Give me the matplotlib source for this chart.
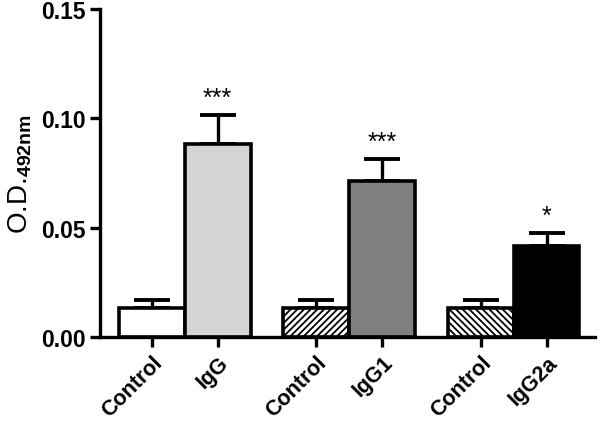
import matplotlib
matplotlib.use("Agg")
import matplotlib.pyplot as plt

categories = ["Control", "IgG", "Control", "IgG1", "Control", "IgG2a"]
positions = [0, 1, 2.5, 3.5, 5, 6]
values = [0.0133, 0.0883, 0.0133, 0.0713, 0.0133, 0.0416]
errors = [0.0037, 0.0130, 0.0037, 0.0100, 0.0037, 0.0060]
stars = ["", "***", "", "***", "", "*"]
face_colors = ["white", "#d4d4d4", "white", "#808080", "white", "black"]
hatches = [None, None, "/////", None, "\\\\\\\\\\", None]
yticks = [0.00, 0.05, 0.10, 0.15]

plt.rcParams['font.family'] = ['Liberation Sans', 'DejaVu Sans']
plt.rcParams['hatch.linewidth'] = 1.3
plt.rcParams['mathtext.fontset'] = 'custom'
plt.rcParams['mathtext.rm'] = 'Liberation Sans'
plt.rcParams['mathtext.bf'] = 'Liberation Sans:bold'

fig = plt.figure(figsize=(6.0, 4.31), dpi=100)
ax = fig.add_axes([0.1667, 0.2158, 0.8253, 0.761])

for p, v, e, fc, h in zip(positions, values, errors, face_colors, hatches):
    ax.bar(p, v, width=1.0, color=fc, edgecolor="black", linewidth=2.6,
           hatch=h, zorder=2)
    ax.errorbar(p, v, yerr=[[0], [e]], fmt="none", ecolor="black",
                elinewidth=2.4, capsize=13, capthick=2.8, zorder=1)

for p, v, e, s in zip(positions, values, errors, stars):
    if s:
        ax.text(p, v + e + 0.0025, s, ha="center", va="bottom",
                fontsize=18)

ax.set_xlim(-0.79, 6.74)
ax.set_ylim(0, 0.15)
ax.set_yticks(yticks)
ax.set_yticklabels([f"{t:.2f}" for t in yticks], fontsize=16.5, fontweight="bold")
ax.set_xticks(positions)
ax.set_xticklabels(categories, rotation=45, ha="right", rotation_mode="anchor",
                   fontsize=15.5, fontweight="bold")
ax.tick_params(axis="both", direction="out", length=7, width=2.4)
for sp in ["top", "right"]:
    ax.spines[sp].set_visible(False)
for sp in ["left", "bottom"]:
    ax.spines[sp].set_linewidth(2.4)

ax.set_ylabel(r"O.D.$_{\mathbf{492nm}}$", fontsize=20, labelpad=5)

fig.savefig("out.png", dpi=100)
